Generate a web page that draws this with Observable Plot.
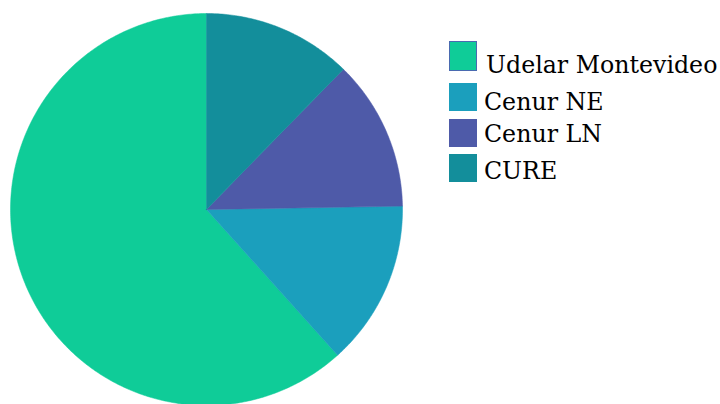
<!DOCTYPE html>
<html>
<head>
<meta charset="utf-8">
<script src="https://cdn.jsdelivr.net/npm/d3@7"></script>
<script src="https://cdn.jsdelivr.net/npm/@observablehq/plot@0.6"></script>
<style>
  html, body { margin: 0; padding: 0; background: #fff; }
  #wrap { position: relative; width: 720px; height: 404px; overflow: hidden; }
  #legend { position: absolute; left: 449px; top: 0; width: 271px; height: 200px; font-family: "DejaVu Serif", serif; font-size: 23.7px; color: #000; }
  .sw { position: absolute; left: 0; width: 28px; height: 28px; box-sizing: border-box; }
  .lb { position: absolute; left: 35px; line-height: 1; white-space: nowrap; }
</style>
</head>
<body>
<div id="wrap"></div>
<script>
const categories = ["Udelar Montevideo", "Cenur NE", "Cenur LN", "CURE"];
const values = [61.6, 13.6, 12.4, 12.3];
const colors = ["#0fcc98", "#1b9fbd", "#4e5aa8", "#138e9b"];

const data = categories.map((name, i) => ({name, value: values[i]}));
const arcs = d3.pie().value(d => d.value).sort(null).startAngle(0).endAngle(-2 * Math.PI)(data);

// polygon points for each slice (unit circle), derived from the pie layout
const pts = [];
arcs.forEach(a => {
  const n = Math.max(2, Math.ceil(Math.abs(a.endAngle - a.startAngle) / 0.01));
  pts.push({name: a.data.name, x: 0, y: 0});
  for (let k = 0; k <= n; k++) {
    const t = a.startAngle + (a.endAngle - a.startAngle) * k / n;
    pts.push({name: a.data.name, x: Math.sin(t), y: Math.cos(t)});
  }
  pts.push({name: a.data.name, x: 0, y: 0});
});

const chart = Plot.plot({
  width: 720,
  height: 404,
  margin: 0,
  x: {domain: [-1, 1], range: [10, 402], axis: null},
  y: {domain: [-1, 1], range: [405, 13], axis: null},
  color: {domain: categories, range: colors},
  marks: [
    Plot.line(pts, {x: "x", y: "y", z: "name", fill: "name", stroke: "name", strokeWidth: 0.5, curve: "linear-closed"})
  ]
});
const wrap = document.getElementById("wrap");
wrap.appendChild(chart);

// legend
const swTops = [41, 83, 119, 154];
const baseTops = [73, 110, 142, 179];
const legend = document.createElement("div");
legend.id = "legend";
categories.forEach((c, i) => {
  const sw = document.createElement("div");
  sw.className = "sw";
  sw.style.top = swTops[i] + "px";
  sw.style.height = (i === 0 ? 30 : 28) + "px";
  sw.style.background = colors[i];
  if (i === 0) sw.style.border = "1px solid #4a6ab0";
  legend.appendChild(sw);
  const lb = document.createElement("div");
  lb.className = "lb";
  lb.textContent = c;
  lb.style.left = (i === 0 ? 37 : 35) + "px";
  lb.style.top = (baseTops[i] - 19.5) + "px";
  legend.appendChild(lb);
});
wrap.appendChild(legend);
</script>
</body>
</html>
